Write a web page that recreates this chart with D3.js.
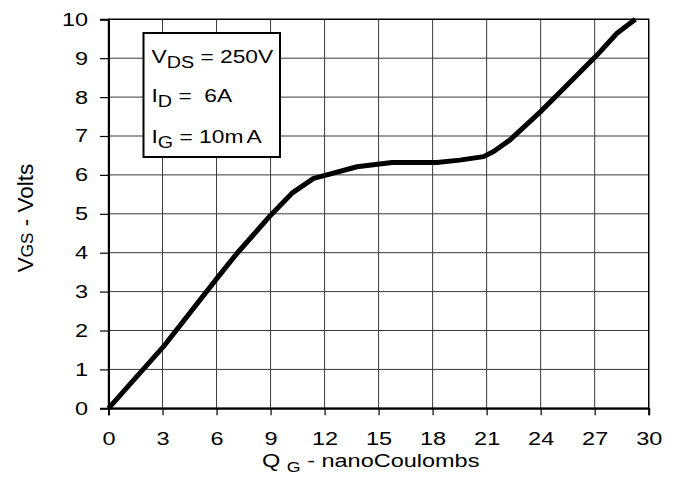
<!DOCTYPE html>
<html><head><meta charset="utf-8">
<script src="https://cdn.jsdelivr.net/npm/d3@7"></script>
<style>
html,body{margin:0;padding:0;background:#fff;}
text{font-family:"Liberation Sans",Arial,Helvetica,sans-serif;fill:#000;}
</style></head>
<body>
<svg id="chart" width="676" height="482"></svg>
<script>
// Data
const qg  = [0, 3.06, 6.02, 7.13, 9.02, 10.19, 11.39, 12.13, 13.8, 15.74, 18.24, 19.5, 20.83, 21.39, 22.3, 23.98, 25.1, 27.13, 28.24, 29.26];
const vgs = [0, 1.59, 3.34, 3.98, 4.97, 5.53, 5.91, 6.0, 6.21, 6.32, 6.32, 6.38, 6.47, 6.6, 6.9, 7.62, 8.14, 9.08, 9.64, 10.0];
const xTicks = [0, 3, 6, 9, 12, 15, 18, 21, 24, 27, 30];
const yTicks = [0, 1, 2, 3, 4, 5, 6, 7, 8, 9, 10];
const legendLines = [
  {main: "V", sub: "DS", rest: " = 250V", tail: ""},
  {main: "I", sub: "D", rest: " =  6A", tail: ""},
  {main: "I", sub: "G", rest: " = 10m", tail: "A"}
];

const SX = 1.27;   // horizontal text stretch seen in reference
const FS = 18.5;

const svg = d3.select("#chart");
const L = 108.5, R = 648.7, T = 19.3, B = 408.3;
const x = d3.scaleLinear().domain([0, 30]).range([L, R]);
const y = d3.scaleLinear().domain([0, 10]).range([B, T]);

// grid
const g = svg.append("g");
g.selectAll(".vg").data(xTicks).join("line")
  .attr("x1", d => x(d)).attr("x2", d => x(d)).attr("y1", T).attr("y2", B)
  .attr("stroke", "#3a3a3a").attr("stroke-width", 1);
g.selectAll(".hg").data(yTicks).join("line")
  .attr("y1", d => y(d)).attr("y2", d => y(d)).attr("x1", L).attr("x2", R)
  .attr("stroke", "#3a3a3a").attr("stroke-width", 1);

// frame
svg.append("rect").attr("x", L).attr("y", T).attr("width", R - L).attr("height", B - T)
  .attr("fill", "none").attr("stroke", "#000").attr("stroke-width", 1.4);

// axes
const xAxis = svg.append("g").attr("transform", `translate(0,${B})`)
  .call(d3.axisBottom(x).tickValues(xTicks).tickSize(7).tickPadding(15).tickFormat(d3.format("d")));
const yAxis = svg.append("g").attr("transform", `translate(${L},0)`)
  .call(d3.axisLeft(y).tickValues(yTicks).tickSize(8.5).tickPadding(12).tickFormat(d3.format("d")));
[xAxis, yAxis].forEach(a => {
  a.select(".domain").attr("stroke", "#000").attr("stroke-width", 2);
  a.selectAll(".tick line").attr("stroke", "#000").attr("stroke-width", 1.2);
  a.selectAll(".tick text").attr("font-size", FS).attr("font-family", null).attr("fill", "#000")
    .each(function() {
      const t = d3.select(this);
      const tx = +t.attr("x") || 0;
      t.attr("transform", `translate(${tx},0) scale(${SX},1) translate(${-tx},0)`);
    });
});
xAxis.selectAll(".tick text").attr("dy", null).attr("y", 37);

// curve
const pts = qg.map((q, i) => [q, vgs[i]]);
svg.append("path").datum(pts)
  .attr("d", d3.line().x(d => x(d[0])).y(d => y(d[1])))
  .attr("fill", "none").attr("stroke", "#000").attr("stroke-width", 5)
  .attr("stroke-linejoin", "round").attr("stroke-linecap", "butt");

// legend box
svg.append("rect").attr("x", 143.5).attr("y", 33).attr("width", 136.5).attr("height", 124)
  .attr("fill", "#fff").attr("stroke", "#000").attr("stroke-width", 2);
const baselines = [63, 102, 143];
legendLines.forEach((ln, i) => {
  const t = svg.append("text").attr("font-size", FS).attr("xml:space", "preserve")
    .attr("transform", `translate(151.5,${baselines[i]}) scale(${SX * 0.97},1)`);
  t.append("tspan").text(ln.main);
  t.append("tspan").attr("font-size", 16).attr("dy", 4.5).text(ln.sub);
  t.append("tspan").attr("dy", -4.5).text(ln.rest);
  if (ln.tail) t.append("tspan").attr("dx", 2.5).text(ln.tail);
});

// x title
const xt = svg.append("text").attr("font-size", FS).attr("xml:space", "preserve")
  .attr("transform", `translate(262,466.5) scale(${SX},1)`);
xt.append("tspan").text("Q ");
xt.append("tspan").attr("font-size", 14).attr("dy", 5).text("G");
xt.append("tspan").attr("dy", -5).text(" - nanoCoulombs");

// y title
const yt = svg.append("text").attr("font-size", 22.5).attr("text-anchor", "middle")
  .attr("transform", `translate(32.5,218) rotate(-90)`);
yt.append("tspan").text("V");
yt.append("tspan").attr("font-size", 17).text("GS");
yt.append("tspan").text(" - Volts");
</script>
</body></html>
